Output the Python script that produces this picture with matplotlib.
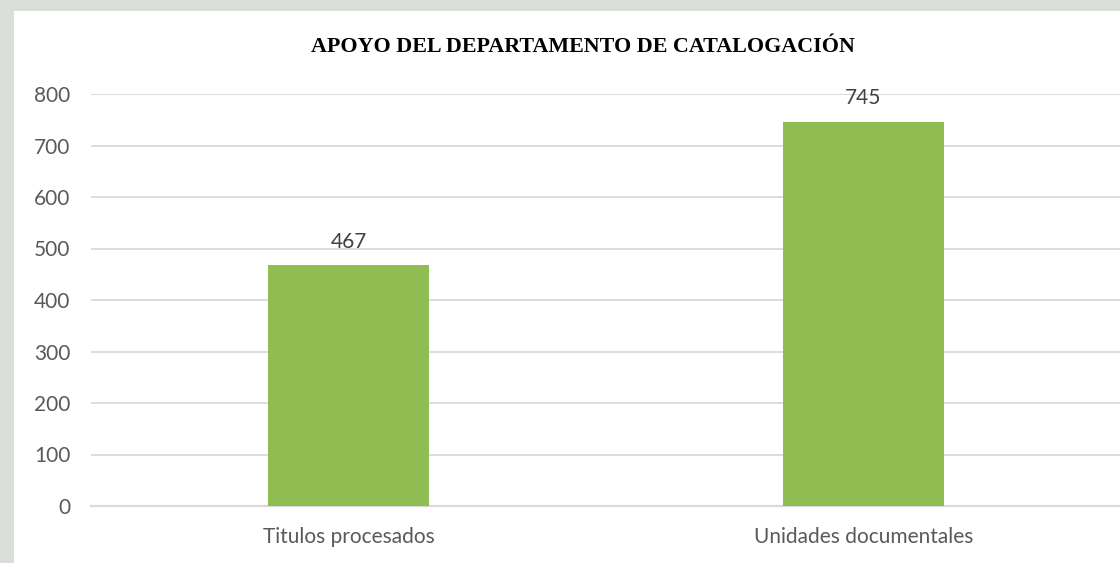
import matplotlib.pyplot as plt
from matplotlib.patches import Rectangle

categories = ["Titulos procesados", "Unidades documentales"]
values = [467, 745]
yticks = [0, 100, 200, 300, 400, 500, 600, 700, 800]

green = "#8FBD51"
grid = "#D9D9D9"
text_grey = "#595959"

fig = plt.figure(figsize=(11.2, 5.63), dpi=100)
fig.patch.set_facecolor("#D9DED8")
fig.patches.append(Rectangle((14 / 1120, 0), 1, 1 - 11 / 563, transform=fig.transFigure,
                             facecolor="white", edgecolor="none", zorder=-5))

ax = fig.add_axes([91 / 1120, 1 - 506 / 563, 1030 / 1120, (506 - 94) / 563])
ax.set_facecolor("none")
x = range(len(categories))
bars = ax.bar(x, values, width=0.313, color=green, zorder=3)
ax.set_xlim(-0.5, 1.5)
ax.set_ylim(0, 800)
ax.set_yticks(yticks)
ax.set_xticks(list(x))
ax.set_xticklabels(categories)
ax.grid(axis="y", color=grid, linewidth=1.3, zorder=0)
for s in ["top", "right", "left"]:
    ax.spines[s].set_visible(False)
ax.spines["bottom"].set_color(grid)
ax.spines["bottom"].set_linewidth(1.6)
ax.tick_params(length=0, labelsize=15, colors=text_grey)
ax.tick_params(axis="y", pad=15)
ax.tick_params(axis="x", pad=15)
for lab in ax.get_xticklabels() + ax.get_yticklabels():
    lab.set_fontfamily("Lato")

for b, v in zip(bars, values):
    ax.annotate(str(v), (b.get_x() + b.get_width() / 2, v), xytext=(0, 10),
                textcoords="offset points", ha="center", va="bottom",
                fontsize=15, color="#404040", family="Lato")

fig.text(583 / 1120, 1 - 47 / 563, "APOYO DEL DEPARTAMENTO DE CATALOGACIÓN",
         ha="center", va="center", fontsize=15.8, fontweight="bold",
         family="Liberation Serif", color="black")

fig.savefig("out.png", dpi=100, facecolor=fig.get_facecolor())
